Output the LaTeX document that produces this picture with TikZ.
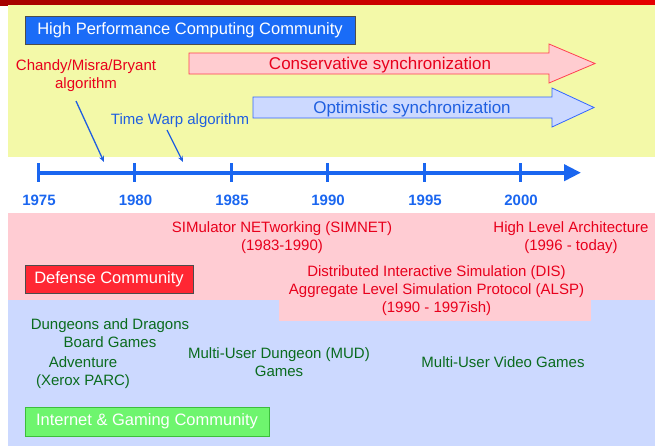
\documentclass[tikz,border=0pt]{standalone}
\usepackage{fontspec}
\setmainfont{Liberation Sans}
\usetikzlibrary{arrows.meta}
\definecolor{yellowbg}{RGB}{243,249,168}
\definecolor{pinkbg}{RGB}{255,204,211}
\definecolor{bluebg}{RGB}{204,217,255}
\definecolor{titleblue}{RGB}{26,108,247}
\definecolor{defred}{RGB}{255,39,51}
\definecolor{gamegreen}{RGB}{110,245,110}
\definecolor{gameborder}{RGB}{60,190,60}
\definecolor{txtred}{RGB}{232,0,28}
\definecolor{txtblue}{RGB}{31,95,224}
\definecolor{txtgreen}{RGB}{10,107,30}
\definecolor{consfill}{RGB}{255,204,208}
\definecolor{consline}{RGB}{255,64,80}
\definecolor{optfill}{RGB}{204,217,255}
\definecolor{optline}{RGB}{51,102,255}
\definecolor{axisblue}{RGB}{26,102,240}
\tikzset{
  commbox/.style={draw=black!70, line width=0.8pt, text=white, inner sep=0pt, font=\fontsize{16.5}{19}\selectfont},
  redtxt/.style={text=txtred, align=center, inner sep=0pt, font=\fontsize{15}{18}\selectfont},
  bluetxt/.style={text=txtblue, align=center, inner sep=0pt, font=\fontsize{15}{18}\selectfont},
  greentxt/.style={text=txtgreen, align=center, inner sep=0pt, font=\fontsize{15}{18}\selectfont},
  yeartxt/.style={text=axisblue, inner sep=0pt, font=\fontsize{15}{18}\selectfont\bfseries},
  tick/.style={axisblue, line width=3pt},
  pointer/.style={txtblue, line width=1.3pt, -{Stealth[length=6pt,width=5pt]}},
}
\begin{document}
\begin{tikzpicture}[x=1pt,y=-1pt]
\useasboundingbox (0,0) rectangle (655,447);
% top bar
\shade[left color=red!65!black, right color=red!90!black] (0,0) rectangle (655,5);
% regions
\fill[yellowbg] (8,5) rectangle (655,157);
\fill[bluebg] (8,300) rectangle (655,446);
\fill[pinkbg] (8,213) rectangle (655,300);
\fill[pinkbg] (279,300) rectangle (591,321);
% community boxes
\node[commbox, fill=titleblue, minimum width=330pt, minimum height=28pt] (hpc) at (190,30) {High Performance Computing Community};
\node[commbox, fill=defred, minimum width=168pt, minimum height=28pt] (def) at (109,279) {Defense Community};
\node[commbox, fill=gamegreen, draw=gameborder, minimum width=244pt, minimum height=29pt] (game) at (147,421.5) {Internet \& Gaming Community};
% synchronization arrows
\draw[fill=consfill, draw=consline, line width=0.8pt] (189,53) -- (549,53) -- (549,44) -- (595,63.5) -- (549,83) -- (549,74) -- (189,74) -- cycle;
\node[text=txtred, inner sep=0pt, font=\fontsize{17}{20}\selectfont] (cons) at (380,65) {Conservative synchronization};
\draw[fill=optfill, draw=optline, line width=0.8pt] (253,97) -- (552,97) -- (552,88) -- (594,107.5) -- (552,127) -- (552,118) -- (253,118) -- cycle;
\node[text=txtblue, inner sep=0pt, font=\fontsize{17}{20}\selectfont] (opt) at (412,109) {Optimistic synchronization};
% algorithm labels
\node[redtxt] (cmb) at (86,76) {Chandy/Misra/Bryant\\algorithm};
\node[bluetxt] (tw) at (180,121) {Time Warp algorithm};
\coordinate (cmbstart) at (76,101);
\coordinate (cmbend) at (104,162);
\coordinate (twstart) at (167,130);
\coordinate (twend) at (183,162);
\draw[pointer] (cmbstart) -- (cmbend);
\draw[pointer] (twstart) -- (twend);
% timeline
\coordinate (axs) at (38,172.7);
\coordinate (axe) at (581,172.7);
\draw[axisblue, line width=4pt, -{Triangle[length=17pt,width=16pt]}] (axs) -- (axe);
\foreach \x/\yr in {38/1975,134.5/1980,231/1985,327/1990,424/1995,520/2000}{
  \draw[tick] (\x,163) -- (\x,182);
  \node[yeartxt] (y\yr) at (\x+1,200.5) {\yr};
}
% defense texts
\node[redtxt] (simnet) at (282,237.5) {SIMulator NETworking (SIMNET)\\(1983-1990)};
\node[redtxt] (hla) at (571,237.5) {High Level Architecture\\(1996 - today)};
\node[redtxt] (dis) at (436.5,291) {Distributed Interactive Simulation (DIS)\\Aggregate Level Simulation Protocol (ALSP)\\(1990 - 1997ish)};
% gaming texts
\node[greentxt] (dnd) at (110,333.5) {Dungeons and Dragons\\Board Games};
\node[greentxt] (adv) at (83,373) {Adventure\\(Xerox PARC)};
\node[greentxt] (mud) at (279,362) {Multi-User Dungeon (MUD)\\Games};
\node[greentxt] (muvg) at (503,362.5) {Multi-User Video Games};
\end{tikzpicture}
\end{document}
